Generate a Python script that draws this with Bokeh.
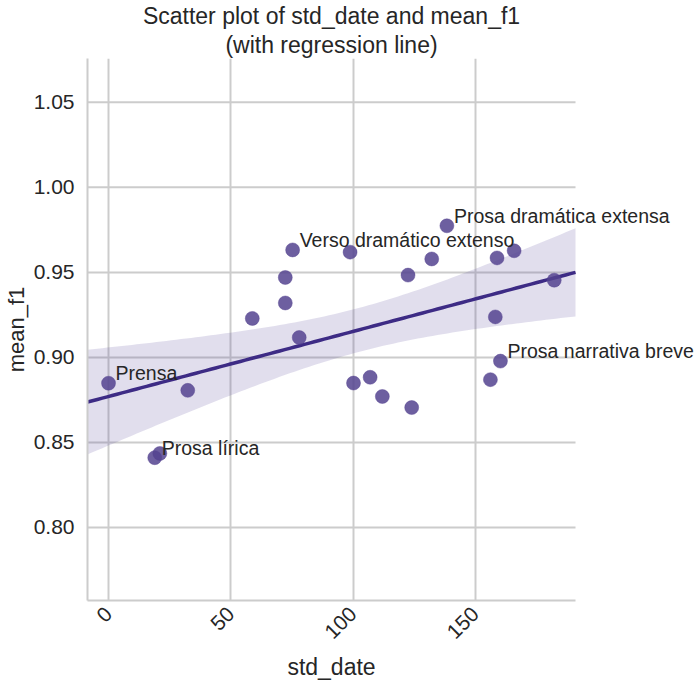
import numpy as np
from bokeh.plotting import figure
from bokeh.models import FixedTicker, Range1d, Label, Title
from bokeh.embed import file_html
from bokeh.resources import INLINE

# ---- data ----
std_date = [0.0, 32.4, 18.9, 21.0, 58.8, 72.3, 72.3, 75.3, 78.0, 98.8,
            138.4, 132.2, 122.5, 158.9, 165.9, 182.3, 158.2, 160.3, 156.2,
            100.2, 107.0, 112.0, 124.0]
mean_f1 = [0.8848, 0.8806, 0.8410, 0.8435, 0.9229, 0.9320, 0.9470, 0.9632,
           0.9117, 0.9619, 0.9774, 0.9579, 0.9484, 0.9585, 0.9627, 0.9454,
           0.9238, 0.8978, 0.8869, 0.8849, 0.8883, 0.8770, 0.8705]
labels = ["Prensa", "", "Prosa lírica", "", "", "", "", "Verso dramático extenso",
          "", "", "Prosa dramática extensa", "", "", "", "", "", "", "Prosa narrativa breve",
          "", "", "", "", ""]
x_ticks = [0, 50, 100, 150]
y_ticks = [0.80, 0.85, 0.90, 0.95, 1.00, 1.05]
title_lines = ["Scatter plot of std_date and mean_f1", "(with regression line)"]
x_label = "std_date"
y_label = "mean_f1"

FONT = "Liberation Sans"
TXT = "#262626"
GRID = "#cccccc"

# Liberation Sans (Arial-metric) advance widths, per 1000 em, used to centre texts
ADV = {'S': 667, 'c': 500, 'a': 556, 't': 278, 'e': 556, 'r': 333, ' ': 278, 'p': 556,
       'l': 222, 'o': 556, 'f': 278, 's': 500, 'd': 556, '_': 556, 'n': 556, 'm': 833,
       '1': 556, '(': 333, ')': 333, 'w': 722, 'i': 222, 'h': 556, 'g': 556}


def text_w(s, px):
    return sum(ADV.get(ch, 556) for ch in s) / 1000.0 * px


x = np.array(std_date)
y = np.array(mean_f1)
n = len(x)

# regression + 95% confidence band
b1, b0 = np.polyfit(x, y, 1)
xmin, xmax = -8.6, 191.0
xs = np.linspace(xmin, xmax, 100)
yhat = b0 + b1 * xs
resid = y - (b0 + b1 * x)
s = np.sqrt(np.sum(resid ** 2) / (n - 2))
tval = 1.7
se = s * np.sqrt(1.0 / n + (xs - x.mean()) ** 2 / np.sum((x - x.mean()) ** 2))
lower = yhat - tval * se
upper = yhat + tval * se

# the visible axes area is 488px wide; the frame is extended to the right so the
# point labels are not clipped
AX_W = 488
FRAME_W = 610
x_end = xmin + (xmax - xmin) * FRAME_W / AX_W

p = figure(frame_width=FRAME_W, frame_height=542,
           min_border_left=79, min_border_top=0, min_border_right=0, min_border_bottom=0,
           x_range=Range1d(xmin, x_end), y_range=Range1d(0.757, 1.0758),
           output_backend="svg", toolbar_location=None, title=None)
p.background_fill_color = "white"
p.border_fill_color = "white"
p.outline_line_color = None

TSZ = 23
for i, txt in enumerate(reversed(title_lines)):
    t = Title(text=txt, align="left", text_font=FONT, text_font_size=f"{TSZ}px",
              text_font_style="normal", text_color=TXT, text_line_height=1.0,
              standoff=2 if i == 0 else 0, offset=AX_W / 2 - text_w(txt, TSZ) / 2)
    p.add_layout(t, "above")

for ax in (p.xaxis[0], p.yaxis[0]):
    ax.axis_line_color = GRID
    ax.axis_line_width = 2
    ax.major_tick_line_color = None
    ax.minor_tick_line_color = None
    ax.major_label_text_font = FONT
    ax.major_label_text_font_size = "21px"
    ax.major_label_text_color = TXT
    ax.axis_label_text_font = FONT
    ax.axis_label_text_font_size = "22px"
    ax.axis_label_text_font_style = "normal"
    ax.axis_label_text_color = TXT

p.yaxis.axis_label = y_label
p.xaxis.bounds = (xmin, xmax)
p.xaxis.ticker = FixedTicker(ticks=x_ticks)
p.yaxis.ticker = FixedTicker(ticks=y_ticks)
p.yaxis.major_label_overrides = {t: f"{t:.2f}" for t in y_ticks}
p.xaxis.major_label_orientation = np.pi / 4
p.xaxis.major_label_standoff = 4
p.yaxis.major_label_standoff = 7
p.yaxis.axis_label_standoff = 2

# x axis label, centred under the visible axes area
p.add_layout(Title(text=x_label, align="left", text_font=FONT, text_font_size="23px",
                   text_font_style="normal", text_color=TXT, text_line_height=1.0,
                   standoff=6, offset=AX_W / 2 - text_w(x_label, 23) / 2), "below")

p.xgrid.grid_line_color = GRID
p.xgrid.grid_line_width = 2
p.ygrid.grid_line_color = None
hg = p.segment(x0=[xmin] * len(y_ticks), y0=y_ticks, x1=[xmax] * len(y_ticks), y1=y_ticks,
               line_color=GRID, line_width=2)
hg.level = "underlay"

p.varea(x=xs, y1=lower, y2=upper, fill_color="#5b4a9b", fill_alpha=0.18)
p.line(xs, yhat, line_color="#3d2b85", line_width=3.5)
p.scatter(x, y, size=14, fill_color="#54438f", fill_alpha=0.85, line_color="#54438f",
          line_alpha=0.85, line_width=0.5)

for xi, yi, l in zip(std_date, mean_f1, labels):
    if l:
        p.add_layout(Label(x=xi, y=yi, text=l, x_offset=7, y_offset=10,
                           text_font=FONT, text_font_size="19.5px", text_color=TXT,
                           text_baseline="middle", text_align="left"))

open("out.html", "w").write(file_html(p, INLINE))
